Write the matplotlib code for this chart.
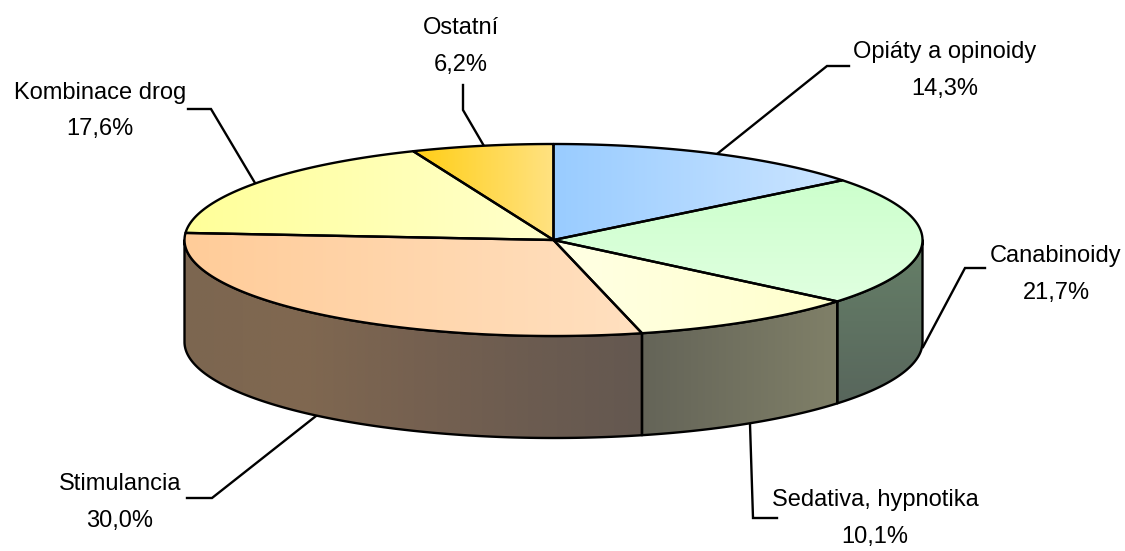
import numpy as np
import matplotlib
matplotlib.use("Agg")
import matplotlib.pyplot as plt
from matplotlib.patches import Polygon

categories = ["Opiáty a opinoidy", "Canabinoidy", "Sedativa, hypnotika", "Stimulancia", "Kombinace drog", "Ostatní"]
values = [14.3, 21.7, 10.1, 30.0, 17.6, 6.2]

# pie geometry in pixels
CX, CY = 553.5, 240
RX, RY = 369, 96
DEPTH = 102
LW = 1.7

# colour stops, (direction, [colours])
top_fill = [
    ("h", [(153, 204, 255), (204, 229, 255)]),
    ("v", [(204, 255, 204), (224, 255, 224)]),
    ("h", [(255, 255, 228), (255, 255, 204)]),
    ("h", [(255, 204, 153), (255, 224, 192)]),
    ("h", [(255, 255, 153), (255, 255, 204)]),
    ("h", [(255, 206, 20), (255, 226, 130)]),
]
side_fill = [
    None,
    ("v", [(102, 128, 104), (88, 102, 92)]),
    ("h", [(100, 100, 88), (128, 128, 104)]),
    ("h", [(124, 102, 80), (128, 104, 80), (118, 97, 80), (108, 92, 80), (100, 88, 80)]),
]

# label centre x and baseline y, leader line
label_pos = [(945, 58), (1056, 262), (875, 506), (120, 490), (100, 99), (461, 34)]
leaders = [
    [(717, 154), (827, 66), (849, 66)],
    [(923, 347), (965, 268), (985, 268)],
    [(750, 424), (753, 518), (777, 518)],
    [(316, 416), (212, 498), (187, 498)],
    [(255, 183), (211, 109), (188, 109)],
    [(484, 146), (463, 110), (463, 85)],
]


def rim(a0, a1, dy=0, n=200):
    # angles clockwise from the top, in degrees
    t = np.radians(np.linspace(a0, a1, n))
    return np.column_stack([CX + RX * np.sin(t), CY - RY * np.cos(t) + dy])


def fill_gradient(ax, pts, fill, zorder):
    direction, stops = fill
    stops = np.array(stops) / 255
    pos = np.linspace(0, 1, len(stops))
    s = np.linspace(0, 1, 256)
    grad = np.column_stack([np.interp(s, pos, stops[:, i]) for i in range(3)])
    img = grad[None, :, :] if direction == "h" else grad[:, None, :]
    x0, x1 = pts[:, 0].min(), pts[:, 0].max()
    y0, y1 = pts[:, 1].min(), pts[:, 1].max()
    im = ax.imshow(img, extent=(x0, x1, y1, y0), origin="upper", aspect="auto",
                   interpolation="bilinear", zorder=zorder)
    poly = Polygon(pts, closed=True, transform=ax.transData, fc="none", ec="black",
                   lw=LW, zorder=zorder + 0.5, joinstyle="round")
    ax.add_patch(poly)
    im.set_clip_path(poly)


fig = plt.figure(figsize=(11.25, 5.51), dpi=100)
ax = fig.add_axes([0, 0, 1, 1])

shares = np.array(values) / sum(values) * 360
edges = np.concatenate([[0], np.cumsum(shares)])

for i, v in enumerate(values):
    a0, a1 = edges[i], edges[i + 1]

    # front wall only between 90 and 270 degrees
    lo, hi = max(a0, 90), min(a1, 270)
    if hi > lo and side_fill[i] is not None:
        upper = rim(lo, hi)
        lower = rim(hi, lo, DEPTH)
        fill_gradient(ax, np.vstack([upper, lower]), side_fill[i], 2)

for i, v in enumerate(values):
    a0, a1 = edges[i], edges[i + 1]
    pts = np.vstack([[[CX, CY]], rim(a0, a1)])
    fill_gradient(ax, pts, top_fill[i], 3)

    lx, ly = label_pos[i]
    ax.text(lx, ly, categories[i], ha="center", va="baseline", fontsize=17,
            family="Liberation Sans", color="black")
    ax.text(lx, ly + 36.5, f"{v:.1f}%".replace(".", ","), ha="center", va="baseline",
            fontsize=17, family="Liberation Sans", color="black")

    xs, ys = zip(*leaders[i])
    ax.plot(xs, ys, color="black", lw=LW, zorder=1, solid_joinstyle="miter")

ax.set_xlim(0, 1125)
ax.set_ylim(551, 0)
ax.axis("off")

fig.savefig("out.png", dpi=100, facecolor="white")
